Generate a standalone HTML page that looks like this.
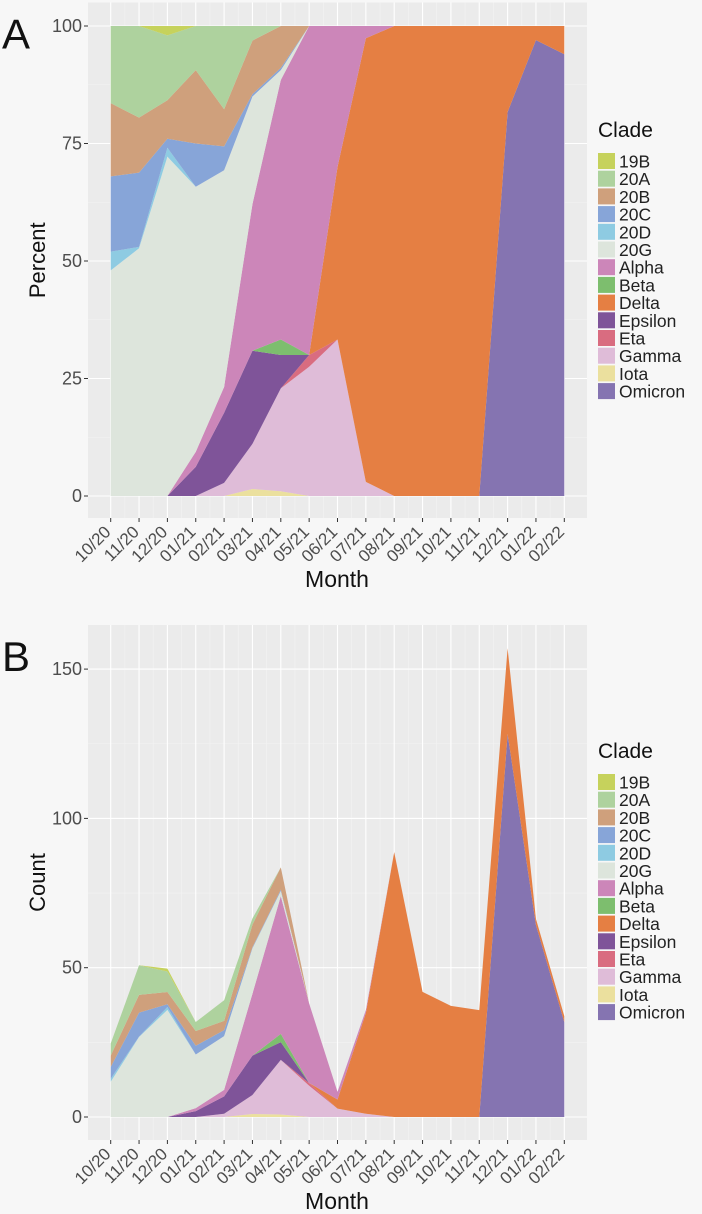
<!DOCTYPE html>
<html><head><meta charset="utf-8"><style>
html,body{margin:0;padding:0;background:#f7f7f7;}
svg{display:block;font-family:"Liberation Sans",Arial,sans-serif;}
</style></head><body>
<svg id="chart" width="702" height="1214" viewBox="0 0 702 1214" xmlns="http://www.w3.org/2000/svg">
<rect width="702" height="1214" fill="#f7f7f7"/>
<g id="panelA"></g>
<g id="panelB"></g>
</svg>
<script>
const months = ["10/20","11/20","12/20","01/21","02/21","03/21","04/21","05/21","06/21","07/21","08/21","09/21","10/21","11/21","12/21","01/22","02/22"];
const clades = ["19B","20A","20B","20C","20D","20G","Alpha","Beta","Delta","Epsilon","Eta","Gamma","Iota","Omicron"];
const cladeColors = ["#c6d25c","#aed29e","#cfa07c","#87a5d8","#8ecbe2","#dde5dc","#cc86b9","#7dbe6e","#e57f43","#7f5499","#d96c80","#dfbcd8","#ebe09e","#8574b1"];
// percent per clade per month (panel A)
const p19B    = [0,0,2,0,0,0,0,0,0,0,0,0,0,0,0,0,0];
const p20A    = [16.4,19.5,13.8,9.4,17.7,3.1,0,0,0,0,0,0,0,0,0,0,0];
const p20B    = [15.6,11.7,8.2,15.6,7.9,11.4,8.9,0,0,0,0,0,0,0,0,0,0];
const p20C    = [16,15.8,1.9,9.2,5.1,0.5,0.5,0,0,0,0,0,0,0,0,0,0];
const p20D    = [4,0.3,1.9,0,0,0,0,0,0,0,0,0,0,0,0,0,0];
const p20G    = [48,52.7,72.2,56.4,46.1,22.9,2.1,0,0,0,0,0,0,0,0,0,0];
const pAlpha  = [0,0,0,3.2,5.5,31.2,55.2,70,30,2.6,0,0,0,0,0,0,0];
const pBeta   = [0,0,0,0,0,0,3.3,0,0,0,0,0,0,0,0,0,0];
const pDelta  = [0,0,0,0,0,0,0,0,36.7,94.4,100,100,100,100,18.3,3,6];
const pEpsilon= [0,0,0,6.2,14.9,19.8,7.1,0,0,0,0,0,0,0,0,0,0];
const pEta    = [0,0,0,0,0,0,0,2.5,0,0,0,0,0,0,0,0,0];
const pGamma  = [0,0,0,0,2.8,9.6,21.9,27.5,33.3,3,0,0,0,0,0,0,0];
const pIota   = [0,0,0,0,0,1.5,1,0,0,0,0,0,0,0,0,0,0];
const pOmicron= [0,0,0,0,0,0,0,0,0,0,0,0,0,0,81.7,97,94];
// total counts per month (panel B)
const totals = [24.6,50.8,49.7,31.8,39.1,66.5,83.6,38,8.4,35.8,88.7,41.9,37.2,35.8,157,66.3,33.8];
const yTicksA = [0,25,50,75,100];
const yTicksB = [0,50,100,150];

const pct = [p19B,p20A,p20B,p20C,p20D,p20G,pAlpha,pBeta,pDelta,pEpsilon,pEta,pGamma,pIota,pOmicron];
const NS="http://www.w3.org/2000/svg";
function mk(tag,attrs,parent){const e=document.createElementNS(NS,tag);for(const k in attrs)e.setAttribute(k,attrs[k]);parent.appendChild(e);return e;}
const x0=110.7, dx=(564.3-110.7)/(months.length-1);
const xS=i=>x0+i*dx;

function panel(g,opts){
  const {top,bottom,yS,ticks,minor,vals,label,ylab,legendTop}=opts;
  const L=88,R=587;
  const bg=mk('rect',{x:L,y:top,width:R-L,height:bottom-top,fill:'#ebebeb'},g);
  
  
  minor.forEach(v=>{const l=mk('line',{x1:L,x2:R,y1:yS(v),y2:yS(v),stroke:'#f3f3f3','stroke-width':0.6},g);
    
    });
  for(let i=0;i<months.length-1;i++){const xm=(xS(i)+xS(i+1))/2;const l=mk('line',{x1:xm,x2:xm,y1:top,y2:bottom,stroke:'#f3f3f3','stroke-width':0.6},g);
    
    }
  ticks.forEach(v=>{const l=mk('line',{x1:L,x2:R,y1:yS(v),y2:yS(v),stroke:'#ffffff','stroke-width':1.1},g);
    
    });
  months.forEach((m,i)=>{const l=mk('line',{x1:xS(i),x2:xS(i),y1:top,y2:bottom,stroke:'#ffffff','stroke-width':1.1},g);
    
    });
  const n=months.length; let base=new Array(n).fill(0);
  for(let c=clades.length-1;c>=0;c--){
    const topv=base.map((b,i)=>b+vals[c][i]);
    let pts=[];
    for(let i=0;i<n;i++)pts.push(xS(i).toFixed(2)+','+yS(topv[i]).toFixed(2));
    for(let i=n-1;i>=0;i--)pts.push(xS(i).toFixed(2)+','+yS(base[i]).toFixed(2));
    const poly=mk('polygon',{points:pts.join(' '),fill:cladeColors[c]},g);
    
    
    base=topv;
  }
  ticks.forEach(v=>{mk('line',{x1:84,x2:88,y1:yS(v),y2:yS(v),stroke:'#333','stroke-width':1},g);
    const t=mk('text',{x:82,y:yS(v)+6,'text-anchor':'end','font-size':18,fill:'#4d4d4d'},g);t.textContent=v;
    
    });
  months.forEach((m,i)=>{mk('line',{x1:xS(i),x2:xS(i),y1:bottom,y2:bottom+4,stroke:'#333','stroke-width':1},g);
    const ax=xS(i)+1, ay=bottom+15;
    const t=mk('text',{x:ax,y:ay,'text-anchor':'end','font-size':17,fill:'#4d4d4d',transform:`rotate(-45 ${ax} ${ay})`},g);t.textContent=m;
    
    });
  const xt=mk('text',{x:337,y:bottom+69,'text-anchor':'middle','font-size':23,fill:'#111'},g);xt.textContent='Month';
  
  
  const cy=(top+bottom)/2;
  const yt=mk('text',{x:45,y:cy,'text-anchor':'middle','font-size':22,fill:'#111',transform:`rotate(-90 45 ${cy})`},g);yt.textContent=ylab;
  
  
  const pl=mk('text',{x:2,y:top+46,'font-size':42,fill:'#111'},g);pl.textContent=label;
  
  
  const lt=mk('text',{x:598,y:legendTop,'font-size':21,fill:'#111'},g);lt.textContent='Clade';
  
  
  clades.forEach((c,i)=>{const ky=legendTop+16+i*17.7;
    const r=mk('rect',{x:598,y:ky,width:17,height:16,fill:cladeColors[i]},g);
    
    
    const t=mk('text',{x:619,y:ky+14.5,'font-size':17.5,fill:'#222'},g);t.textContent=c;
    
    });
}
const gA=document.getElementById('panelA'), gB=document.getElementById('panelB');
panel(gA,{top:2.5,bottom:518,yS:v=>496-v*4.7,ticks:yTicksA,minor:[12.5,37.5,62.5,87.5],vals:pct,label:'A',ylab:'Percent',legendTop:137});
const counts=pct.map(arr=>arr.map((p,i)=>p*totals[i]/100));
panel(gB,{top:625,bottom:1140,yS:v=>1117-v*2.986,ticks:yTicksB,minor:[25,75,125],vals:counts,label:'B',ylab:'Count',legendTop:758});
</script>
</body></html>
